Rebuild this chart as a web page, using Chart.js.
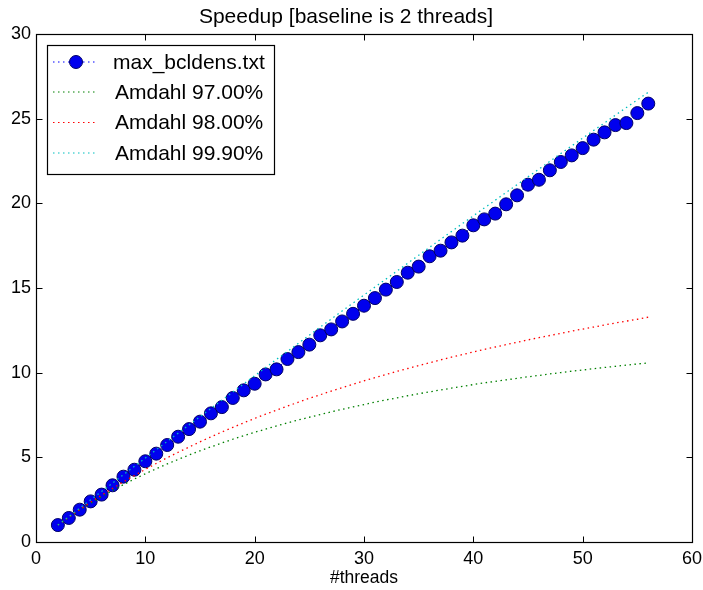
<!DOCTYPE html>
<html>
<head>
<meta charset="utf-8">
<script src="https://cdn.jsdelivr.net/npm/chart.js@4.4.1/dist/chart.umd.min.js"></script>
<style>
  html, body { margin: 0; padding: 0; background: #ffffff; }
  #wrap { width: 703px; height: 590px; }
</style>
</head>
<body>
<div id="wrap"><canvas id="c" width="703" height="590"></canvas></div>
<script>
const threads = [2,3,4,5,6,7,8,9,10,11,12,13,14,15,16,17,18,19,20,21,22,23,24,25,26,27,28,29,30,31,32,33,34,35,36,37,38,39,40,41,42,43,44,45,46,47,48,49,50,51,52,53,54,55,56];
const measured = [1.00,1.42,1.91,2.40,2.80,3.35,3.86,4.27,4.77,5.22,5.73,6.22,6.67,7.11,7.60,7.97,8.51,8.96,9.35,9.90,10.20,10.81,11.22,11.66,12.21,12.56,13.03,13.48,13.96,14.41,14.91,15.36,15.91,16.27,16.88,17.21,17.70,18.10,18.71,19.06,19.40,19.95,20.48,21.11,21.40,21.96,22.45,22.84,23.27,23.77,24.20,24.63,24.75,25.34,25.90];
const amdahl97 = [1.00,1.46,1.89,2.29,2.68,3.04,3.39,3.72,4.03,4.33,4.61,4.88,5.14,5.39,5.62,5.85,6.07,6.28,6.48,6.67,6.86,7.04,7.21,7.37,7.53,7.69,7.84,7.98,8.12,8.26,8.39,8.51,8.64,8.76,8.87,8.98,9.09,9.19,9.30,9.40,9.49,9.58,9.67,9.76,9.84,9.93,10.01,10.09,10.16,10.24,10.31,10.38,10.45,10.52,10.58];
const amdahl98 = [1.00,1.47,1.92,2.36,2.77,3.17,3.56,3.93,4.29,4.64,4.98,5.30,5.61,5.92,6.21,6.50,6.77,7.04,7.30,7.55,7.79,8.03,8.26,8.49,8.70,8.92,9.12,9.32,9.52,9.71,9.89,10.08,10.25,10.42,10.59,10.76,10.92,11.07,11.23,11.38,11.52,11.66,11.80,11.94,12.07,12.20,12.33,12.46,12.58,12.70,12.82,12.94,13.05,13.16,13.28];
const amdahl999 = [1.00,1.50,2.00,2.49,2.99,3.48,3.98,4.47,4.96,5.45,5.94,6.43,6.92,7.40,7.89,8.38,8.86,9.34,9.82,10.30,10.79,11.26,11.74,12.22,12.70,13.17,13.65,14.12,14.59,15.06,15.53,16.00,16.47,16.94,17.41,17.88,18.34,18.81,19.27,19.73,20.19,20.65,21.11,21.57,22.03,22.49,22.95,23.40,23.86,24.31,24.76,25.22,25.67,26.12,26.57];
const xTickValues = [0,10,20,30,40,50,60];
const yTickValues = [0,5,10,15,20,25,30];
const seriesNames = ["max_bcldens.txt","Amdahl 97.00%","Amdahl 98.00%","Amdahl 99.90%"];
const titleText = "Speedup [baseline is 2 threads]";
const xLabel = "#threads";

const FONT = "'Liberation Sans', Arial, Helvetica, sans-serif";
Chart.defaults.font.family = FONT;
Chart.defaults.color = '#000000';

function pts(vals) { return threads.map((t, i) => ({ x: t, y: vals[i] })); }

const colors = ['#0000ff', '#008000', '#ff0000', '#00bfbf'];
const dash = [1.5, 3.5];

const frameAndLegend = {
  id: 'frameAndLegend',
  afterDraw(chart) {
    const { ctx, chartArea: a, scales } = chart;
    const xs = scales.x, ys = scales.y;
    ctx.save();
    ctx.strokeStyle = '#000000';
    ctx.lineWidth = 1;
    ctx.setLineDash([]);
    const L = Math.round(a.left) + 0.5, R = Math.round(a.right) + 0.5;
    const T = Math.round(a.top) + 0.5, B = Math.round(a.bottom) + 0.5;
    const tl = 6;
    ctx.beginPath();
    xs.ticks.forEach(t => {
      const px = Math.round(xs.getPixelForValue(t.value)) + 0.5;
      ctx.moveTo(px, B); ctx.lineTo(px, B - tl);
      ctx.moveTo(px, T); ctx.lineTo(px, T + tl);
    });
    ys.ticks.forEach(t => {
      const py = Math.round(ys.getPixelForValue(t.value)) + 0.5;
      ctx.moveTo(L, py); ctx.lineTo(L + tl, py);
      ctx.moveTo(R, py); ctx.lineTo(R - tl, py);
    });
    ctx.stroke();
    ctx.lineWidth = 1.2;
    ctx.strokeRect(L, T, R - L, B - T);

    // legend
    const bx = 47.5, by = 45.5, bw = 227, bh = 129;
    ctx.fillStyle = '#ffffff';
    ctx.fillRect(bx, by, bw, bh);
    ctx.lineWidth = 1.2;
    ctx.strokeStyle = '#000000';
    ctx.strokeRect(bx, by, bw, bh);
    const rowY = [62, 92, 122.5, 153];
    chart.data.datasets.forEach((ds, i) => {
      const yc = rowY[i];
      ctx.save();
      ctx.strokeStyle = ds.borderColor;
      ctx.lineWidth = 1.2;
      ctx.setLineDash(dash);
      ctx.beginPath();
      ctx.moveTo(53, yc); ctx.lineTo(98, yc);
      ctx.stroke();
      ctx.setLineDash([]);
      if (i === 0) {
        ctx.beginPath();
        ctx.arc(76, yc, 6.5, 0, Math.PI * 2);
        ctx.fillStyle = ds.pointBackgroundColor;
        ctx.fill();
        ctx.lineWidth = 1;
        ctx.strokeStyle = ds.pointBorderColor;
        ctx.stroke();
      }
      ctx.restore();
      ctx.fillStyle = '#000000';
      ctx.font = '21px ' + FONT;
      ctx.textBaseline = 'middle';
      ctx.textAlign = 'left';
      ctx.fillText(ds.label, i === 0 ? 113 : 115, yc + 1);
    });
    ctx.restore();
  }
};

new Chart(document.getElementById('c'), {
  type: 'scatter',
  data: {
    datasets: [
      { label: seriesNames[0], data: pts(measured), showLine: true,
        borderColor: colors[0], borderWidth: 1.2, borderDash: dash,
        pointRadius: 6.5, pointBackgroundColor: '#0000ee', pointBorderColor: '#000066', pointBorderWidth: 1,
        order: 4 },
      { label: seriesNames[1], data: pts(amdahl97), showLine: true,
        borderColor: colors[1], borderWidth: 1.3, borderDash: dash, pointRadius: 0, order: 3 },
      { label: seriesNames[2], data: pts(amdahl98), showLine: true,
        borderColor: colors[2], borderWidth: 1.3, borderDash: dash, pointRadius: 0, order: 2 },
      { label: seriesNames[3], data: pts(amdahl999), showLine: true,
        borderColor: colors[3], borderWidth: 1.3, borderDash: dash, pointRadius: 0, order: 1 }
    ]
  },
  options: {
    responsive: false,
    animation: false,
    devicePixelRatio: 1,
    layout: { padding: { left: 0, right: 11, top: 0, bottom: 0 } },
    plugins: {
      legend: { display: false },
      tooltip: { enabled: false },
      title: { display: true, text: titleText, color: '#000000',
        font: { size: 21, weight: 'normal', family: FONT }, padding: { top: 5, bottom: 4 } }
    },
    scales: {
      x: {
        type: 'linear', min: 0, max: 60,
        afterBuildTicks(s) { s.ticks = xTickValues.map(v => ({ value: v })); },
        afterFit(s) { s.height = 48; s.paddingRight = 0; s.paddingLeft = 0; },
        grid: { display: false, drawTicks: false },
        border: { display: false },
        ticks: { padding: 6, font: { size: 18 }, color: '#000000', maxRotation: 0 },
        title: { display: true, text: xLabel, font: { size: 17.5 }, color: '#000000', padding: { top: 0, bottom: 1 } }
      },
      y: {
        type: 'linear', min: 0, max: 30,
        afterBuildTicks(s) { s.ticks = yTickValues.map(v => ({ value: v })); },
        afterFit(s) { s.width = 36; s.paddingTop = 0; s.paddingBottom = 0; },
        grid: { display: false, drawTicks: false },
        border: { display: false },
        ticks: { padding: 5, font: { size: 18 }, color: '#000000' }
      }
    }
  },
  plugins: [frameAndLegend]
});
</script>
</body>
</html>
